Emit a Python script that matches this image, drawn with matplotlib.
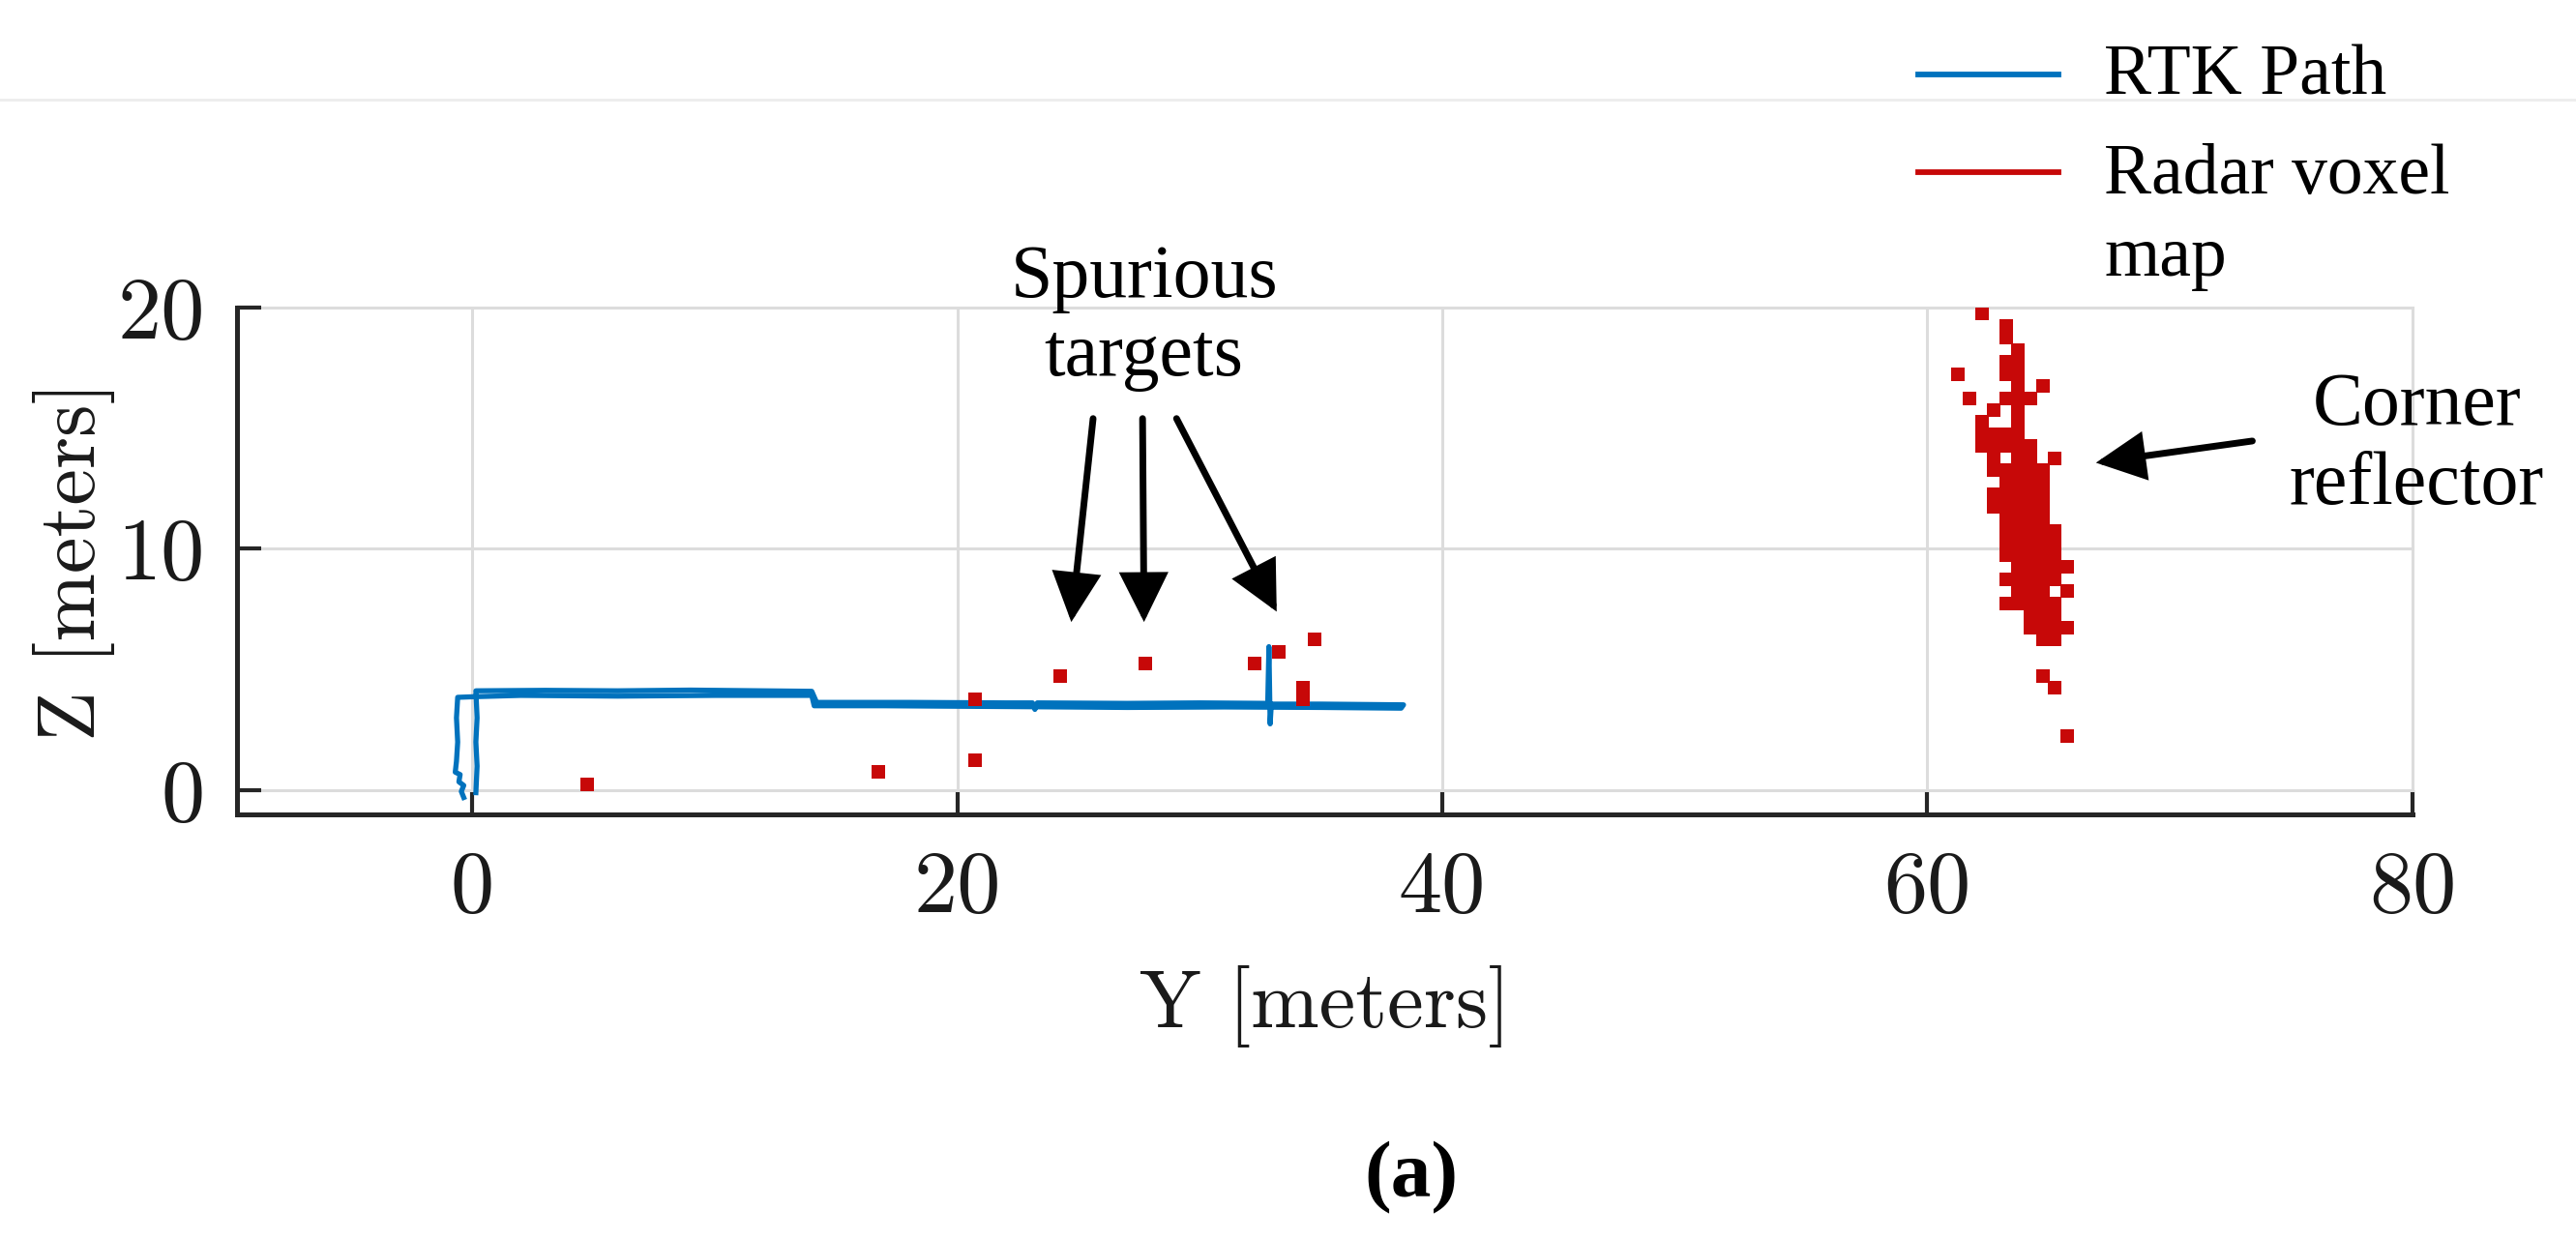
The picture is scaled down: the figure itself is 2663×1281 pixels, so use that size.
import matplotlib
matplotlib.use("Agg")
import matplotlib.pyplot as plt
from matplotlib.lines import Line2D

# ---------------- data ----------------
# RTK path: Y (horizontal) and Z (vertical) in meters, out-and-back flight
rtk_y = [0.15, 0.2, 0.15, 0.2, 0.15, 3.0, 6.0, 9.0, 12.0, 14.0, 14.2, 18.0, 22.0, 23.1,
         23.2, 23.3, 27.0, 30.0, 32.8, 32.85, 32.9, 32.95, 35.0, 38.4,
         38.3, 35.0, 31.0, 27.0, 23.0, 20.0, 17.0, 14.1, 14.0, 10.0, 6.0, 2.0, 0.2,
         -0.6, -0.65, -0.6, -0.65, -0.7, -0.5, -0.55, -0.35, -0.45, -0.35]
rtk_z = [-0.1, 1.0, 2.0, 3.0, 4.12, 4.14, 4.12, 4.15, 4.12, 4.1, 3.64, 3.64, 3.62, 3.62,
         3.35, 3.62, 3.6, 3.62, 3.6, 5.95, 2.75, 3.57, 3.57, 3.54,
         3.4, 3.43, 3.45, 3.43, 3.46, 3.48, 3.5, 3.5, 3.93, 3.93, 3.9, 3.93, 3.88,
         3.85, 3.0, 2.0, 1.2, 0.75, 0.65, 0.35, 0.2, -0.05, -0.3]

# Radar voxel map (0.5 m voxels): corner-reflector cluster, row by row
voxel_z_rows = [19.75, 19.25, 18.75, 18.25, 17.75, 17.25, 16.75, 16.25, 15.75, 15.25,
                14.75, 14.25, 13.75, 13.25, 12.75, 12.25, 11.75, 11.25, 10.75, 10.25,
                9.75, 9.25, 8.75, 8.25, 7.75, 7.25, 6.75, 6.25, 4.75, 4.25, 2.25]
voxel_y_rows = [
    [62.25],
    [63.25],
    [63.25],
    [63.75],
    [63.25, 63.75],
    [61.25, 63.25, 63.75],
    [63.75, 64.75],
    [61.75, 63.25, 63.75, 64.25],
    [62.75, 63.75],
    [62.25, 63.75],
    [62.25, 62.75, 63.25, 63.75],
    [62.25, 62.75, 63.25, 63.75, 64.25],
    [62.75, 63.75, 64.25, 65.25],
    [62.75, 63.25, 63.75, 64.25, 64.75],
    [63.25, 63.75, 64.25, 64.75],
    [62.75, 63.25, 63.75, 64.25, 64.75],
    [62.75, 63.25, 63.75, 64.25, 64.75],
    [63.25, 63.75, 64.25, 64.75],
    [63.25, 63.75, 64.25, 64.75, 65.25],
    [63.25, 63.75, 64.25, 64.75, 65.25],
    [63.25, 63.75, 64.25, 64.75, 65.25],
    [63.75, 64.25, 64.75, 65.25, 65.75],
    [63.25, 63.75, 64.25, 64.75, 65.25],
    [63.75, 64.25, 64.75, 65.75],
    [63.25, 63.75, 64.25, 64.75, 65.25],
    [64.25, 64.75, 65.25],
    [64.25, 64.75, 65.25, 65.75],
    [64.75, 65.25],
    [64.75],
    [65.25],
    [65.75],
]
# spurious radar voxels
spurious_y = [4.75, 16.75, 20.75, 20.75, 24.25, 27.75, 32.25, 33.25, 34.75, 34.25, 34.25]
spurious_z = [0.25, 0.75, 1.25, 3.75, 4.75, 5.25, 5.25, 5.75, 6.25, 4.25, 3.75]

x_ticks = [0, 20, 40, 60, 80]
x_tick_labels = ["0", "20", "40", "60", "80"]
y_ticks = [0, 10, 20]
y_tick_labels = ["0", "10", "20"]

legend_labels = ["RTK Path", "Radar voxel", "map"]

# annotation arrows (tail -> tip), data coordinates
spur_tails = [(25.6, 15.4), (27.64, 15.4), (29.04, 15.4)]
spur_tips = [(24.7, 6.97), (27.7, 6.97), (33.17, 7.4)]
corner_tail = (73.4, 14.47)
corner_tip = (66.95, 13.57)

# ---------------- styling ----------------
BLUE = "#0072BD"
RED = "#C70808"
AX_COL = "#262626"
SERIF = ["Liberation Serif", "DejaVu Serif"]
CM = ["cmr10", "DejaVu Serif"]

fig = plt.figure(figsize=(26.63, 12.81), dpi=100)
ax = fig.add_axes([0.0920, 0.3427, 0.9365 - 0.0920, 0.7518 - 0.3427])

vox_y = [y for row in voxel_y_rows for y in row]
vox_z = [z for z, row in zip(voxel_z_rows, voxel_y_rows) for _ in row]
vox_y += spurious_y
vox_z += spurious_z

ax.plot(rtk_y, rtk_z, color=BLUE, lw=3.8, solid_joinstyle="round", zorder=3)
ax.scatter(vox_y, vox_z, marker="s", s=112, color=RED, linewidths=0, zorder=4)

ax.set_xlim(-9.7, 80)
ax.set_ylim(-1, 20)

for s in ["top", "right"]:
    ax.spines[s].set_visible(False)
for s in ["left", "bottom"]:
    ax.spines[s].set_linewidth(3.6)
    ax.spines[s].set_color(AX_COL)

ax.set_xticks(x_ticks, labels=x_tick_labels, fontfamily=CM, fontsize=65)
ax.set_yticks(y_ticks, labels=y_tick_labels, fontfamily=CM, fontsize=65)
ax.tick_params(axis="both", direction="in", length=18, width=3.0, color=AX_COL,
               labelcolor="#1a1a1a")
ax.tick_params(axis="x", pad=27)
ax.tick_params(axis="y", pad=24)

ax.grid(True, color="#dcdcdc", lw=2.2)
ax.set_axisbelow(True)
for gl in ax.get_xgridlines() + ax.get_ygridlines():
    gl.set_clip_on(False)

ax.set_xlabel("Y [meters]", fontfamily=CM, fontsize=61, color="#1a1a1a")
ax.xaxis.set_label_coords(0.5, -0.378)
ax.xaxis.label.set_va("center")
ax.set_ylabel("Z [meters]", fontfamily=CM, fontsize=61, color="#1a1a1a")
ax.yaxis.set_label_coords(-0.0751, 0.5)
ax.yaxis.label.set_va("center")

# annotations
ax.text(27.7, 20.45, "Spurious", ha="center", va="baseline", family=SERIF, fontsize=56)
ax.text(27.7, 17.2, "targets", ha="center", va="baseline", family=SERIF, fontsize=56)
ax.text(80.17, 15.15, "Corner", ha="center", va="baseline", family=SERIF, fontsize=56)
ax.text(80.17, 11.86, "reflector", ha="center", va="baseline", family=SERIF, fontsize=56)

arrow_kw = dict(arrowstyle="-|>,head_length=1.45,head_width=0.72", mutation_scale=20,
                lw=5.0, color="black", shrinkA=0, shrinkB=0, joinstyle="miter")
for tail, tip in zip(spur_tails, spur_tips):
    ax.annotate("", xy=tip, xytext=tail, arrowprops=arrow_kw, annotation_clip=False)
ax.annotate("", xy=corner_tip, xytext=corner_tail, arrowprops=arrow_kw,
            annotation_clip=False)

# legend (outside, top right) and faint separator line
fig.add_artist(Line2D([0, 1], [0.9196, 0.9196], transform=fig.transFigure,
                      color="#ececec", lw=2))
fig.add_artist(Line2D([0.7447, 0.7991], [0.9399, 0.9399], transform=fig.transFigure,
                      color=BLUE, lw=4.2))
fig.add_artist(Line2D([0.7447, 0.7991], [0.8610, 0.8610], transform=fig.transFigure,
                      color=RED, lw=4.2))
fig.text(0.8168, 0.9235, legend_labels[0], ha="left", va="baseline", family=SERIF, fontsize=53)
fig.text(0.8168, 0.8439, legend_labels[1], ha="left", va="baseline", family=SERIF, fontsize=53)
fig.text(0.8168, 0.7775, legend_labels[2], ha="left", va="baseline", family=SERIF, fontsize=53)

fig.text(0.548, 0.049, "(a)", ha="center", va="center", family=SERIF, fontsize=60,
         fontweight="bold")

fig.savefig("out.png", dpi=100, facecolor="white")
